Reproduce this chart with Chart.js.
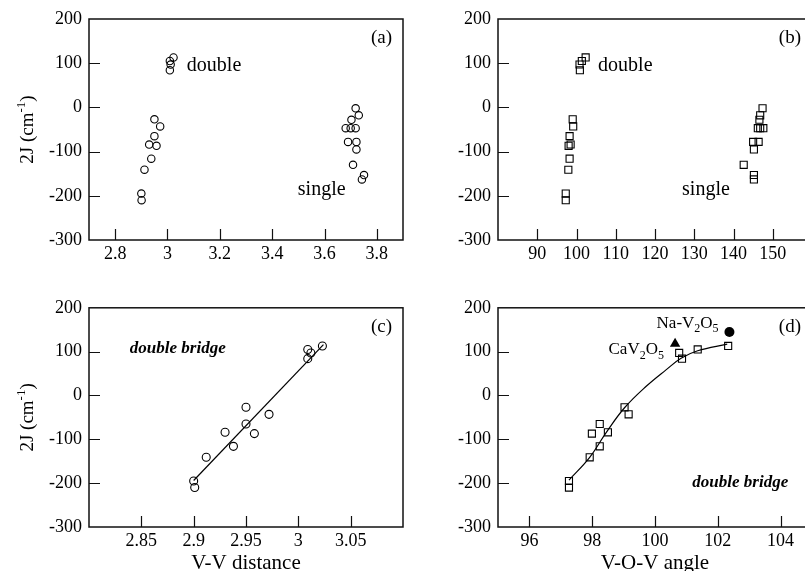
<!DOCTYPE html>
<html>
<head>
<meta charset="utf-8">
<script src="https://cdn.jsdelivr.net/npm/chart.js@4.4.0/dist/chart.umd.min.js"></script>
<style>
html, body { margin: 0; padding: 0; background: #fff; overflow: hidden; width: 805px; height: 571px; }
canvas { position: absolute; }
</style>
</head>
<body>
<canvas id="chartA" width="410" height="290" style="left:0;top:0"></canvas>
<canvas id="chartB" width="410" height="290" style="left:410px;top:0"></canvas>
<canvas id="chartC" width="410" height="281" style="left:0;top:290px"></canvas>
<canvas id="chartD" width="410" height="281" style="left:410px;top:290px"></canvas>
<script>
const SERIF = '"Liberation Serif", "Times New Roman", serif';

// double bridge: 2J (cm-1), V-V distance, V-O-V angle
const jDouble = [-195, -210, -141, -84, -116, -27, -65, -87, -43, 105, 97, 84, 113];
const distDouble = [2.900, 2.901, 2.912, 2.930, 2.938, 2.950, 2.950, 2.958, 2.972, 3.009, 3.012, 3.009, 3.023];
const angleDouble = [97.26, 97.26, 97.92, 98.50, 98.24, 99.03, 98.24, 97.99, 99.16, 101.36, 100.77, 100.86, 102.33];

// single bridge
const jSingle = [-2, -18, -28, -47, -47, -47, -78, -78, -95, -130, -153, -163];
const distSingle = [3.719, 3.731, 3.703, 3.681, 3.700, 3.719, 3.690, 3.722, 3.722, 3.709, 3.751, 3.743];
const angleSingle = [147.4, 146.8, 146.6, 146.2, 146.8, 147.6, 145.0, 146.4, 145.2, 142.6, 145.2, 145.2];

// lines drawn through the double bridge data (c) and (d)
const fitDistX = [2.900, 3.024];
const fitDistY = [-194, 116];
const fitAngleX = [97.26, 97.92, 98.45, 99.03, 99.72, 100.36, 100.83, 101.36, 102.3];
const fitAngleY = [-193, -141, -84, -28, 21, 59, 85, 102, 117];

// reference compounds [angle, 2J]
const naV2O5 = [102.37, 145];
const caV2O5 = [100.64, 118];

// tick labels
const yTicks = [-300, -200, -100, 0, 100, 200];
const distTicksA = [2.8, 3, 3.2, 3.4, 3.6, 3.8];
const angleTicksB = [90, 100, 110, 120, 130, 140, 150];
const distTicksC = [2.85, 2.9, 2.95, 3, 3.05];
const angleTicksD = [96, 98, 100, 102, 104];

const pts = (xs, ys) => xs.map((x, i) => ({ x: x, y: ys[i] }));

function drawRich(ctx, x, y, parts, size, style) {
    let cx = x;
    parts.forEach(p => {
        const s = (p.sub || p.sup) ? Math.round(size * 0.7) : size;
        ctx.font = `${style || ''} ${s}px ${SERIF}`;
        const dy = p.sub ? size * 0.28 : p.sup ? -size * 0.42 : 0;
        ctx.fillText(p.t, cx, y + dy);
        cx += ctx.measureText(p.t).width;
    });
    return cx - x;
}

function richWidth(ctx, parts, size, style) {
    let w = 0;
    parts.forEach(p => {
        const s = (p.sub || p.sup) ? Math.round(size * 0.7) : size;
        ctx.font = `${style || ''} ${s}px ${SERIF}`;
        w += ctx.measureText(p.t).width;
    });
    return w;
}

// box, inner ticks, panel letter, axis titles, notes
const decor = {
    id: 'decor',
    afterDraw(chart, args, opts) {
        const ctx = chart.ctx;
        const a = chart.chartArea;
        const sx = chart.scales.x, sy = chart.scales.y;
        ctx.save();
        ctx.strokeStyle = '#111';
        ctx.lineWidth = 1.5;
        ctx.strokeRect(a.left, a.top, a.right - a.left, a.bottom - a.top);
        ctx.lineWidth = 1.2;
        ctx.beginPath();
        sx.ticks.forEach(t => {
            const px = Math.round(sx.getPixelForValue(t.value)) + 0.5;
            if (px <= a.left + 1 || px >= a.right - 1) return;
            ctx.moveTo(px, a.bottom);
            ctx.lineTo(px, a.bottom - 11);
        });
        sy.ticks.forEach(t => {
            const py = Math.round(sy.getPixelForValue(t.value)) + 0.5;
            if (py <= a.top + 1 || py >= a.bottom - 1) return;
            ctx.moveTo(a.left, py);
            ctx.lineTo(a.left + 11, py);
        });
        ctx.stroke();

        ctx.fillStyle = '#000';
        ctx.textBaseline = 'alphabetic';
        ctx.textAlign = 'right';
        ctx.font = `19px ${SERIF}`;
        ctx.fillText(opts.letter, a.right - 11, a.top + 24);

        ctx.textAlign = 'left';
        (opts.notes || []).forEach(n => {
            const px = sx.getPixelForValue(n.at[0]);
            const py = sy.getPixelForValue(n.at[1]);
            drawRich(ctx, px, py, n.parts, n.size, n.style);
        });

        if (opts.xTitle) {
            ctx.textAlign = 'center';
            ctx.font = `21px ${SERIF}`;
            ctx.fillText(opts.xTitle, (a.left + a.right) / 2, a.bottom + 42);
        }
        if (opts.yTitle) {
            ctx.textAlign = 'left';
            const w = richWidth(ctx, opts.yTitle, 19);
            ctx.translate(a.left - 62 + 6, (a.top + a.bottom) / 2);
            ctx.rotate(-Math.PI / 2);
            drawRich(ctx, -w / 2, 0, opts.yTitle, 19);
        }
        ctx.restore();
    }
};

function axes(xMin, xMax, xTicks, yWidth, xHeight) {
    const tickFont = { family: SERIF, size: 18 };
    return {
        x: {
            type: 'linear', min: xMin, max: xMax,
            afterBuildTicks: s => { s.ticks = xTicks.map(v => ({ value: v })); },
            afterFit: s => { s.height = xHeight; },
            grid: { display: false, drawTicks: false },
            border: { display: false },
            ticks: { color: '#000', font: tickFont, padding: 3, maxRotation: 0, autoSkip: false,
                     callback: v => String(+v.toFixed(2)) }
        },
        y: {
            type: 'linear', min: -300, max: 200,
            afterBuildTicks: s => { s.ticks = yTicks.map(v => ({ value: v })); },
            afterFit: s => { s.width = yWidth; },
            grid: { display: false, drawTicks: false },
            border: { display: false },
            ticks: { color: '#000', font: tickFont, padding: 7, autoSkip: false }
        }
    };
}

function scatterSet(data, style, radius) {
    return {
        type: 'scatter', data: data, pointStyle: style, pointRadius: radius,
        borderColor: '#000', backgroundColor: 'rgba(0,0,0,0)', borderWidth: 1.1
    };
}

function lineSet(data, tension) {
    return {
        type: 'line', data: data, borderColor: '#000', borderWidth: 1.2,
        pointRadius: 0, fill: false, tension: tension
    };
}

function makeChart(id, datasets, scales, padding, decorOpts) {
    return new Chart(document.getElementById(id), {
        type: 'scatter',
        data: { datasets: datasets },
        options: {
            responsive: false, animation: false, events: [],
            layout: { padding: padding },
            scales: scales,
            plugins: { legend: { display: false }, tooltip: { enabled: false }, decor: decorOpts }
        },
        plugins: [decor]
    });
}

const yTitle = [{ t: '2J (cm' }, { t: '-1', sup: true }, { t: ')' }];

makeChart('chartA', [
    scatterSet(pts(distDouble, jDouble), 'circle', 3.7),
    scatterSet(pts(distSingle, jSingle), 'circle', 3.7)
], axes(2.7, 3.9, distTicksA, 89, 50), { top: 19, right: 7 }, {
    letter: '(a)', yTitle: yTitle,
    notes: [
        { at: [3.074, 82], parts: [{ t: 'double' }], size: 20 },
        { at: [3.498, -199], parts: [{ t: 'single' }], size: 20 }
    ]
});

makeChart('chartB', [
    scatterSet(pts(angleDouble, jDouble), 'rect', 5),
    scatterSet(pts(angleSingle, jSingle), 'rect', 5)
], axes(80, 160, angleTicksB, 88, 50), { top: 19, right: 8 }, {
    letter: '(b)',
    notes: [
        { at: [105.5, 82], parts: [{ t: 'double' }], size: 20 },
        { at: [126.9, -198], parts: [{ t: 'single' }], size: 20 }
    ]
});

makeChart('chartC', [
    lineSet(pts(fitDistX, fitDistY), 0),
    scatterSet(pts(distDouble, jDouble), 'circle', 4)
], axes(2.8, 3.1, distTicksC, 89, 44), { top: 16, right: 7 }, {
    letter: '(c)', yTitle: yTitle, xTitle: 'V-V distance',
    notes: [
        { at: [2.839, 97], parts: [{ t: 'double bridge' }], size: 17, style: 'italic bold' }
    ]
});

makeChart('chartD', [
    lineSet(pts(fitAngleX, fitAngleY), 0.4),
    scatterSet(pts(angleDouble, jDouble), 'rect', 5),
    { type: 'scatter', data: [{ x: naV2O5[0], y: naV2O5[1] }], pointStyle: 'circle', pointRadius: 5,
      backgroundColor: '#000', borderColor: '#000', borderWidth: 0 },
    { type: 'scatter', data: [{ x: caV2O5[0], y: caV2O5[1] }], pointStyle: 'triangle', pointRadius: 6,
      backgroundColor: '#000', borderColor: '#000', borderWidth: 0 }
], axes(95, 105, angleTicksD, 88, 44), { top: 16, right: 8 }, {
    letter: '(d)', xTitle: 'V-O-V angle',
    notes: [
        { at: [101.19, -208], parts: [{ t: 'double bridge' }], size: 17, style: 'italic bold' },
        { at: [100.05, 155], parts: [{ t: 'Na-V' }, { t: '2', sub: true }, { t: 'O' }, { t: '5', sub: true }], size: 17 },
        { at: [98.52, 94], parts: [{ t: 'CaV' }, { t: '2', sub: true }, { t: 'O' }, { t: '5', sub: true }], size: 17 }
    ]
});
</script>
</body>
</html>
